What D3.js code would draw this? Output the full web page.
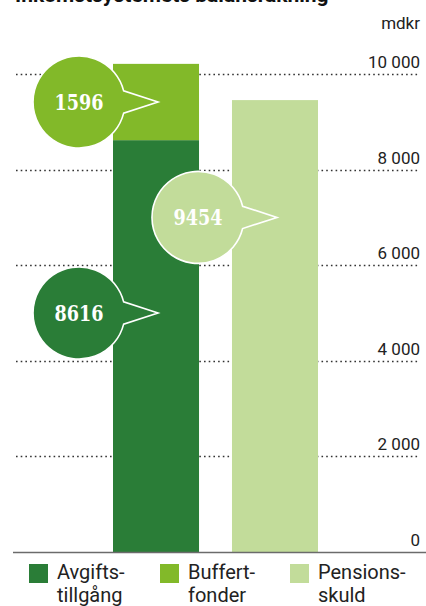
<!DOCTYPE html>
<html><head><meta charset="utf-8">
<script src="https://cdn.jsdelivr.net/npm/d3@7"></script>
<style>
html,body{margin:0;padding:0;background:#fff;}
svg{display:block;font-family:Roboto,"Noto Sans",sans-serif;}
</style></head>
<body>
<svg id="chart" width="426" height="606"></svg>
<script>
// ---- data ----
const title = "Inkomstsystemets balansräkning";
const unit = "mdkr";
const columns = ["Tillgångar", "Skulder"];
const seriesNames = ["Avgiftstillgång", "Buffertfonder", "Pensionsskuld"];
const legendLines = [["Avgifts-", "tillgång"], ["Buffert-", "fonder"], ["Pensions-", "skuld"]];
const seriesColumn = ["Tillgångar", "Tillgångar", "Skulder"];
const seriesValues = [8616, 1596, 9454];
const tickValues = [0, 2000, 4000, 6000, 8000, 10000];
const tickLabels = ["0", "2 000", "4 000", "6 000", "8 000", "10 000"];

// ---- layout (not data) ----
const colors = ["#2a7d37", "#82b929", "#c2dc9a"];
const bubbleAnchorValue = [5000, 9414, 7000]; // vertical placement of callouts
const svg = d3.select("#chart");

const y = d3.scaleLinear().domain([0, 10000]).range([552, 74]);
const x = d3.scaleBand().domain(columns).range([113, 318]).paddingInner(0.277).paddingOuter(0);

// title (cut off at top, as in the reference)
svg.append("text").attr("x", 15).attr("y", 1.5)
  .attr("font-size", 21).attr("font-weight", 700).attr("fill", "#111")
  .text(title);

// unit
svg.append("text").attr("x", 420).attr("y", 29).attr("text-anchor", "end")
  .attr("font-size", 17).attr("fill", "#222").text(unit);

// gridlines
const grid = svg.append("g");
tickValues.filter(v => v > 0).forEach(v => {
  grid.append("line").attr("x1", 16).attr("x2", 420)
    .attr("y1", Math.round(y(v)) + 0.5).attr("y2", Math.round(y(v)) + 0.5)
    .attr("stroke", "#333").attr("stroke-width", 1.6)
    .attr("stroke-dasharray", "1.6,3.1");
});
// tick labels
tickValues.forEach((v, i) => {
  svg.append("text").attr("x", 420).attr("y", y(v) - 6).attr("text-anchor", "end")
    .attr("font-size", 17).attr("fill", "#222").text(tickLabels[i]);
});

// stacked bars
const stackBase = {};
const segs = seriesValues.map((v, i) => {
  const col = seriesColumn[i];
  const b = stackBase[col] || 0;
  stackBase[col] = b + v;
  return {col, y0: b, y1: b + v, color: colors[i], value: v, i};
});
svg.append("g").selectAll("rect").data(segs).join("rect")
  .attr("x", d => x(d.col))
  .attr("width", x.bandwidth())
  .attr("y", d => y(d.y1))
  .attr("height", d => y(d.y0) - y(d.y1))
  .attr("fill", d => d.color);

// axis line
svg.append("line").attr("x1", 13).attr("x2", 426)
  .attr("y1", y(0) + 0.5).attr("y2", y(0) + 0.5)
  .attr("stroke", "#6b6b6b").attr("stroke-width", 1.5);

// callout bubbles
const r = 46, a = 14 * Math.PI / 180, tipDx = 79;
const bubblePath = () => {
  const px = r * Math.cos(a), py = r * Math.sin(a);
  return `M${px},${-py} A${r},${r} 0 1 0 ${px},${py} L${tipDx},0 Z`;
};
segs.forEach((d, i) => {
  const tipX = x(d.col) + x.bandwidth() / 2 + 2;
  const cy = y(bubbleAnchorValue[i]);
  const g = svg.append("g").attr("transform", `translate(${tipX - tipDx},${cy})`);
  g.append("path").attr("d", bubblePath())
    .attr("fill", d.color).attr("stroke", "#fff").attr("stroke-width", 1.6)
    .attr("stroke-linejoin", "miter");
  g.append("text").attr("x", 0).attr("y", 8).attr("text-anchor", "middle")
    .attr("font-size", 22).attr("font-weight", 700).attr("fill", "#fff")
    .attr("font-family", "'DejaVu Serif', serif")
    .attr("textLength", 49).attr("lengthAdjust", "spacingAndGlyphs")
    .text(d.value);
});

// legend
const legendX = [29, 160, 290];
legendLines.forEach((lines, i) => {
  const g = svg.append("g").attr("transform", `translate(${legendX[i]},564)`);
  g.append("rect").attr("width", 19).attr("height", 19).attr("fill", colors[i]);
  lines.forEach((t, j) => {
    g.append("text").attr("x", 28).attr("y", 14.5 + j * 23.5)
      .attr("font-size", 20).attr("fill", "#222").text(t);
  });
});
</script>
</body></html>
